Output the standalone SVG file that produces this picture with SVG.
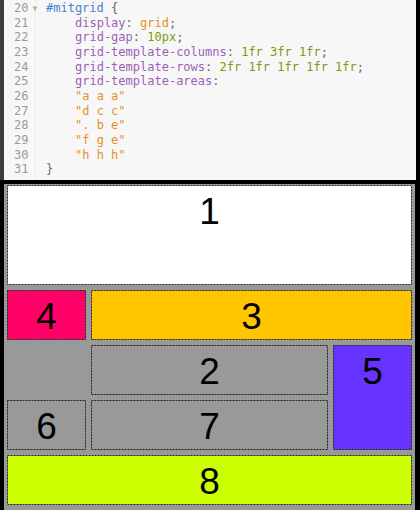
<svg xmlns="http://www.w3.org/2000/svg" width="420" height="510" viewBox="0 0 420 510">
<style>
.code{font-family:"DejaVu Sans Mono","Liberation Mono",monospace;font-size:12px;fill:#666}
.ln{fill:#9a9a9a;text-anchor:end}
.sel{fill:#4a7fd4}
.pr{fill:#9d5fb8}
.val{fill:#e88e1a}
.num{fill:#7a9a12}
.str{fill:#e8901f}
.item{stroke:#222;stroke-width:1;stroke-dasharray:2 1}
.lbl{font-family:"Liberation Sans",Arial,sans-serif;font-size:37px;fill:#000;text-anchor:middle}
</style>
<rect x="0" y="0" width="420" height="510" fill="#000"/>
<g id="code-panel">
<rect x="4" y="0" width="412" height="180" fill="#f7f7f7"/>
<rect x="0" y="0" width="4" height="180" fill="#3c3c3c"/>
<line x1="35.5" y1="0" x2="35.5" y2="180" stroke="#ebebeb" stroke-width="1"/>
<g class="code">
<text class="ln" x="28.5" y="12">20</text>
<text class="ln" x="28.5" y="26.7">21</text>
<text class="ln" x="28.5" y="41.3">22</text>
<text class="ln" x="28.5" y="56">23</text>
<text class="ln" x="28.5" y="70.7">24</text>
<text class="ln" x="28.5" y="85.3">25</text>
<text class="ln" x="28.5" y="100">26</text>
<text class="ln" x="28.5" y="114.7">27</text>
<text class="ln" x="28.5" y="129.3">28</text>
<text class="ln" x="28.5" y="144">29</text>
<text class="ln" x="28.5" y="158.7">30</text>
<text class="ln" x="28.5" y="173.3">31</text>
<text x="32.5" y="11" font-size="8" fill="#b0b0b0">▼</text>
<text x="46" y="12"><tspan class="sel">#mitgrid</tspan> {</text>
<text x="75" y="26.7"><tspan class="pr">display</tspan>: <tspan class="val">grid</tspan>;</text>
<text x="75" y="41.3"><tspan class="pr">grid-gap</tspan>: <tspan class="num">10px</tspan>;</text>
<text x="75" y="56"><tspan class="pr">grid-template-columns</tspan>: <tspan class="num">1fr 3fr 1fr</tspan>;</text>
<text x="75" y="70.7"><tspan class="pr">grid-template-rows</tspan>: <tspan class="num">2fr 1fr 1fr 1fr 1fr</tspan>;</text>
<text x="75" y="85.3"><tspan class="pr">grid-template-areas</tspan>:</text>
<text class="str" x="75" y="100">"a a a"</text>
<text class="str" x="75" y="114.7">"d c c"</text>
<text class="str" x="75" y="129.3">". b e"</text>
<text class="str" x="75" y="144">"f g e"</text>
<text class="str" x="75" y="158.7">"h h h"</text>
<text x="46" y="173.3">}</text>
</g>
</g>
<g id="grid-container">
<rect x="4" y="184" width="411" height="326" fill="#999999"/>
</g>
<g id="item-1">
<rect class="item" x="7.5" y="185.5" width="404" height="99" fill="#ffffff"/>
<text class="lbl" x="209.5" y="224">1</text>
</g>
<g id="item-4">
<rect class="item" x="7.5" y="290.5" width="78" height="49" fill="#ff0066"/>
<text class="lbl" x="46.5" y="329">4</text>
</g>
<g id="item-3">
<rect class="item" x="91.5" y="290.5" width="320" height="49" fill="#ffc600"/>
<text class="lbl" x="251.5" y="329">3</text>
</g>
<g id="item-2">
<rect class="item" x="91.5" y="345.5" width="236" height="49" fill="#999999"/>
<text class="lbl" x="209.5" y="384">2</text>
</g>
<g id="item-5">
<rect class="item" x="333.5" y="345.5" width="78" height="104" fill="#6633ff"/>
<text class="lbl" x="372.5" y="384">5</text>
</g>
<g id="item-6">
<rect class="item" x="7.5" y="400.5" width="78" height="49" fill="#999999"/>
<text class="lbl" x="46.5" y="439">6</text>
</g>
<g id="item-7">
<rect class="item" x="91.5" y="400.5" width="236" height="49" fill="#999999"/>
<text class="lbl" x="209.5" y="439">7</text>
</g>
<g id="item-8">
<rect class="item" x="7.5" y="455.5" width="404" height="49" fill="#ccff00"/>
<text class="lbl" x="209.5" y="494">8</text>
</g>
</svg>
